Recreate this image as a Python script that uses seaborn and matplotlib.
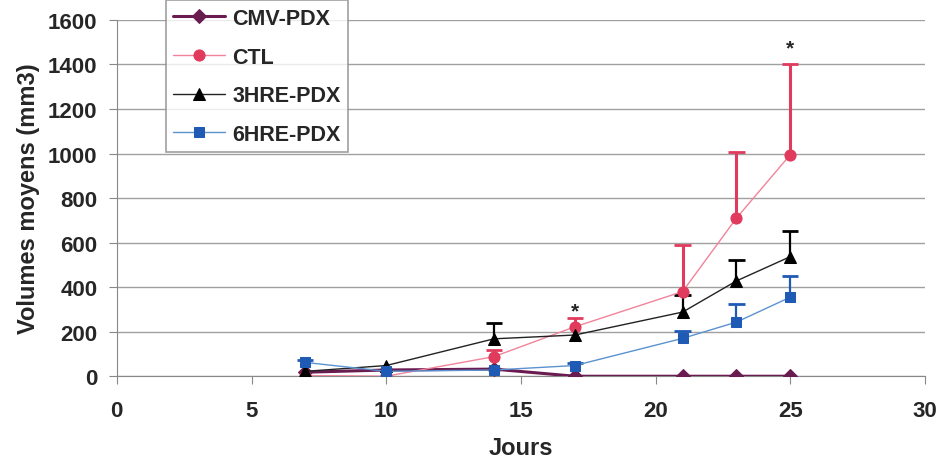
import numpy as np
import pandas as pd
import matplotlib.pyplot as plt
import seaborn as sns

days = [7, 10, 14, 17, 21, 23, 25]

cmv_pdx = [18, 28, 32, 0, 0, 0, 0]
ctl = [3, 0, 88, 222, 380, 710, 995]
hre3_pdx = [22, 48, 168, 185, 288, 428, 537]
hre6_pdx = [62, 22, 28, 48, 170, 243, 355]

# upper error bars (only + side shown)
ctl_err = [0, 0, 28, 38, 210, 295, 405]
hre3_err = [0, 0, 70, 0, 77, 94, 115]
hre6_err = [10, 0, 0, 10, 32, 80, 95]
cmv_err = [0, 0, 0, 0, 0, 0, 0]

star_days = [17, 25]
star_values = [292, 1475]

series = [
    ("CMV-PDX", cmv_pdx, cmv_err),
    ("CTL", ctl, ctl_err),
    ("3HRE-PDX", hre3_pdx, hre3_err),
    ("6HRE-PDX", hre6_pdx, hre6_err),
]

styles = {
    "CMV-PDX": dict(line="#6a1b50", mk="#6a1b50", marker="D", ms=7, lw=2.2),
    "CTL": dict(line="#f0849a", mk="#e03a5c", marker="o", ms=8, lw=1.0),
    "3HRE-PDX": dict(line="#222222", mk="#000000", marker="^", ms=9, lw=1.0),
    "6HRE-PDX": dict(line="#5b92d0", mk="#1f5bb5", marker="s", ms=7, lw=1.0),
}

df = pd.concat([
    pd.DataFrame({"Jours": days, "Volume": v, "err": e, "Groupe": name})
    for name, v, e in series
])

sns.set_style("white")
plt.rcParams["font.family"] = ["Liberation Sans", "DejaVu Sans"]
plt.rcParams["font.weight"] = "bold"

fig = plt.figure(figsize=(9.42, 4.64), dpi=100)
ax = fig.add_axes([0.124, 0.187, 0.858, 0.768])

for name, _, _ in series:
    s = styles[name]
    sub = df[df["Groupe"] == name]
    top = sub["Volume"] + sub["err"]
    has = sub["err"] > 0
    if has.any():
        ew = 2.2 if name == "CTL" else 1.6
        ax.vlines(sub["Jours"][has], sub["Volume"][has], top[has], color=s["mk"],
                  linewidth=ew, zorder=2)
        ax.hlines(top[has], sub["Jours"][has] - 0.3, sub["Jours"][has] + 0.3,
                  color=s["mk"], linewidth=2, zorder=2)
    sns.lineplot(data=sub, x="Jours", y="Volume", ax=ax, color=s["line"],
                 linewidth=s["lw"], marker=s["marker"], markersize=s["ms"],
                 markerfacecolor=s["mk"], markeredgecolor=s["mk"],
                 label=name, zorder=3, legend=False)

for d, v in zip(star_days, star_values):
    ax.text(d, v, "*", ha="center", va="center", fontsize=15, fontweight="bold")

ax.set_xlim(0, 30)
ax.set_ylim(0, 1600)
ax.set_xticks(np.arange(0, 31, 5))
ax.set_yticks(np.arange(0, 1601, 200))
ax.yaxis.grid(True, color="#a0a0a0", linewidth=1)
ax.xaxis.grid(False)
ax.set_axisbelow(True)
for side in ["top", "right"]:
    ax.spines[side].set_visible(False)
for side in ["left", "bottom"]:
    ax.spines[side].set_color("#888888")
ax.tick_params(axis="both", which="both", direction="out", length=6, color="#888888",
               labelsize=16, left=True, bottom=True)
ax.tick_params(axis="x", pad=11)
ax.tick_params(axis="y", pad=8)
for lab in ax.get_xticklabels() + ax.get_yticklabels():
    lab.set_fontweight("bold")
ax.set_xlabel("Jours", fontsize=17, fontweight="bold", labelpad=11)
ax.set_ylabel("Volumes moyens (mm3)", fontsize=17, fontweight="bold", labelpad=6)

handles, labels = ax.get_legend_handles_labels()
leg = fig.legend(handles, labels, loc="upper left", bbox_to_anchor=(0.176, 0.997),
                 borderaxespad=0, frameon=True, fancybox=False, fontsize=15.5,
                 handlelength=2.4, handletextpad=0.35, borderpad=0.35,
                 labelspacing=0.82, edgecolor="#888888")
leg.get_frame().set_linewidth(1.2)
for t in leg.get_texts():
    t.set_fontweight("bold")

fig.savefig("out.png", dpi=100)
